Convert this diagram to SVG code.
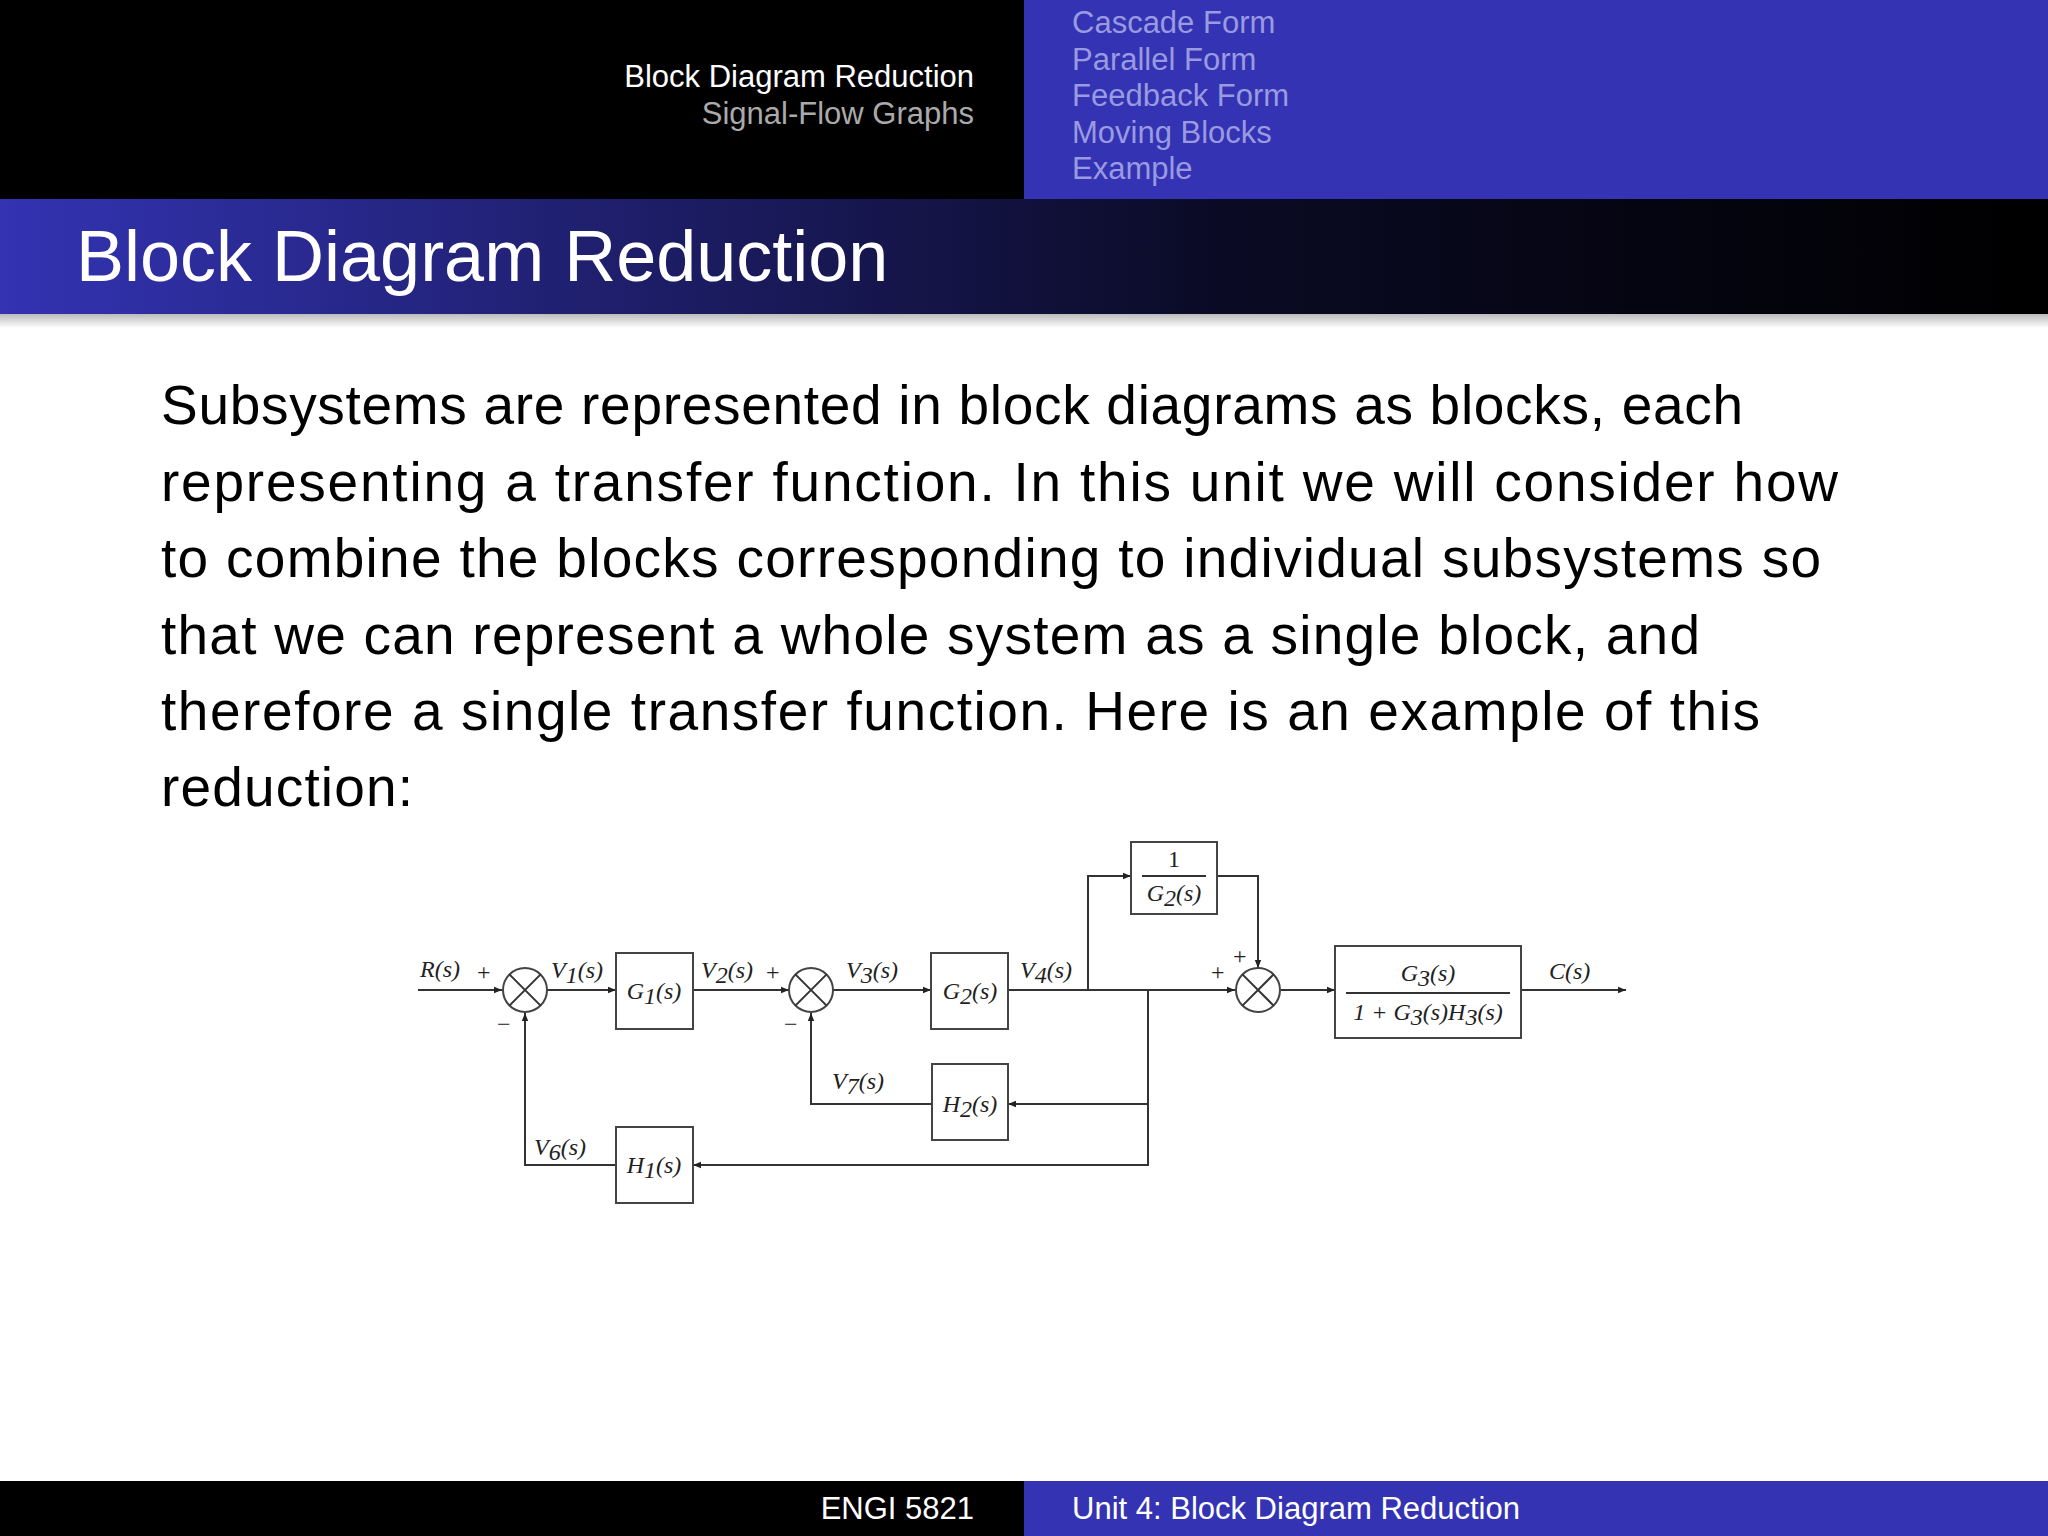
<svg xmlns="http://www.w3.org/2000/svg" width="2048" height="1536" viewBox="0 0 2048 1536">
<defs>
<linearGradient id="tg" x1="0" x2="1" y1="0" y2="0"><stop offset="0" stop-color="#3333b3"/><stop offset="0.6" stop-color="#0a0a24"/><stop offset="1" stop-color="#000"/></linearGradient>
<linearGradient id="sh" x1="0" x2="0" y1="0" y2="1"><stop offset="0" stop-color="#bbb"/><stop offset="1" stop-color="#fff"/></linearGradient>
<marker id="ar" viewBox="0 0 10 10" refX="10" refY="5" markerWidth="8" markerHeight="8" markerUnits="userSpaceOnUse" orient="auto"><path d="M0,1 L10,5 L0,9 z" fill="#222"/></marker>
<style>
.sans{font-family:"Liberation Sans","DejaVu Sans",sans-serif}
.nav{fill:#9a9ae0;font-size:31px}
.body{font-size:55px;fill:#000}
.m{font-family:"Liberation Serif",serif;font-style:italic;font-size:24px;fill:#222}
.r{font-family:"Liberation Serif",serif;font-size:24px;fill:#222}
.ln{stroke:#333;stroke-width:2;fill:none}
.bx{stroke:#444;stroke-width:2;fill:#fff}
</style>
</defs>
<rect width="2048" height="1536" fill="#fff"/>
<rect x="0" y="0" width="1024" height="199" fill="#000"/>
<rect x="1024" y="0" width="1024" height="199" fill="#3333b3"/>
<text class="sans" x="974" y="87" text-anchor="end" font-size="31" fill="#fff">Block Diagram Reduction</text>
<text class="sans" x="974" y="124" text-anchor="end" font-size="31" fill="#aaa">Signal-Flow Graphs</text>
<text class="sans nav" x="1072" y="33">Cascade Form</text>
<text class="sans nav" x="1072" y="70">Parallel Form</text>
<text class="sans nav" x="1072" y="106">Feedback Form</text>
<text class="sans nav" x="1072" y="143">Moving Blocks</text>
<text class="sans nav" x="1072" y="179">Example</text>
<rect x="0" y="199" width="2048" height="115" fill="url(#tg)"/>
<rect x="0" y="314" width="2048" height="14" fill="url(#sh)"/>
<text class="sans" x="76" y="281" font-size="72" fill="#fff">Block Diagram Reduction</text>
<g class="sans body">
<text x="161" y="424" textLength="1582">Subsystems are represented in block diagrams as blocks, each</text>
<text x="161" y="501" textLength="1677">representing a transfer function. In this unit we will consider how</text>
<text x="161" y="577" textLength="1660">to combine the blocks corresponding to individual subsystems so</text>
<text x="161" y="654" textLength="1539">that we can represent a whole system as a single block, and</text>
<text x="161" y="730" textLength="1599">therefore a single transfer function. Here is an example of this</text>
<text x="161" y="806" textLength="252">reduction:</text>
</g>
<g id="connectors">
<line class="ln" x1="418" y1="990" x2="502" y2="990" marker-end="url(#ar)"/>
<line class="ln" x1="547" y1="990" x2="616" y2="990" marker-end="url(#ar)"/>
<line class="ln" x1="693" y1="990" x2="789" y2="990" marker-end="url(#ar)"/>
<line class="ln" x1="833" y1="990" x2="931" y2="990" marker-end="url(#ar)"/>
<line class="ln" x1="1008" y1="990" x2="1235" y2="990" marker-end="url(#ar)"/>
<polyline class="ln" points="1088,990 1088,876 1131,876" marker-end="url(#ar)"/>
<polyline class="ln" points="1217,876 1258,876 1258,968" marker-end="url(#ar)"/>
<line class="ln" x1="1281" y1="990" x2="1335" y2="990" marker-end="url(#ar)"/>
<line class="ln" x1="1521" y1="990" x2="1626" y2="990" marker-end="url(#ar)"/>
<polyline class="ln" points="1148,990 1148,1165 693,1165" marker-end="url(#ar)"/>
<polyline class="ln" points="1148,1104 1008,1104" marker-end="url(#ar)"/>
<polyline class="ln" points="932,1104 811,1104 811,1013" marker-end="url(#ar)"/>
<polyline class="ln" points="616,1165 525,1165 525,1013" marker-end="url(#ar)"/>
</g>
<g id="sum1"><circle class="bx" cx="525" cy="990" r="22"/><path class="ln" d="M509.4,974.4 L540.6,1005.6 M540.6,974.4 L509.4,1005.6"/></g>
<g id="sum2"><circle class="bx" cx="811" cy="990" r="22"/><path class="ln" d="M795.4,974.4 L826.6,1005.6 M826.6,974.4 L795.4,1005.6"/></g>
<g id="sum3"><circle class="bx" cx="1258" cy="990" r="22"/><path class="ln" d="M1242.4,974.4 L1273.6,1005.6 M1273.6,974.4 L1242.4,1005.6"/></g>
<g id="g1"><rect class="bx" x="616" y="953" width="77" height="76"/><text class="m" x="654" y="999" text-anchor="middle">G<tspan class="r" font-size="16" dy="5">1</tspan><tspan dy="-5">(s)</tspan></text></g>
<g id="g2"><rect class="bx" x="931" y="953" width="77" height="76"/><text class="m" x="970" y="999" text-anchor="middle">G<tspan class="r" font-size="16" dy="5">2</tspan><tspan dy="-5">(s)</tspan></text></g>
<g id="inv"><rect class="bx" x="1131" y="842" width="86" height="72"/><text class="r" x="1174" y="867" text-anchor="middle">1</text><line class="ln" x1="1142" y1="876" x2="1206" y2="876"/><text class="m" x="1174" y="901" text-anchor="middle">G<tspan class="r" font-size="16" dy="5">2</tspan><tspan dy="-5">(s)</tspan></text></g>
<g id="h2"><rect class="bx" x="932" y="1064" width="76" height="76"/><text class="m" x="970" y="1112" text-anchor="middle">H<tspan class="r" font-size="16" dy="5">2</tspan><tspan dy="-5">(s)</tspan></text></g>
<g id="h1"><rect class="bx" x="616" y="1127" width="77" height="76"/><text class="m" x="654" y="1173" text-anchor="middle">H<tspan class="r" font-size="16" dy="5">1</tspan><tspan dy="-5">(s)</tspan></text></g>
<g id="g3"><rect class="bx" x="1335" y="946" width="186" height="92"/><text class="m" x="1428" y="981" text-anchor="middle">G<tspan class="r" font-size="16" dy="5">3</tspan><tspan dy="-5">(s)</tspan></text><line class="ln" x1="1346" y1="993" x2="1510" y2="993"/><text class="m" x="1428" y="1020" text-anchor="middle"><tspan class="r">1 + </tspan>G<tspan class="r" font-size="16" dy="5">3</tspan><tspan dy="-5">(s)H</tspan><tspan class="r" font-size="16" dy="5">3</tspan><tspan dy="-5">(s)</tspan></text></g>
<g id="labels">
<text class="m" x="420" y="977">R(s)</text>
<text class="r" x="477" y="980">+</text>
<text class="r" x="497" y="1032">−</text>
<text class="m" x="551" y="978">V<tspan class="r" font-size="16" dy="5">1</tspan><tspan dy="-5">(s)</tspan></text>
<text class="m" x="701" y="978">V<tspan class="r" font-size="16" dy="5">2</tspan><tspan dy="-5">(s)</tspan></text>
<text class="r" x="766" y="980">+</text>
<text class="r" x="784" y="1032">−</text>
<text class="m" x="846" y="978">V<tspan class="r" font-size="16" dy="5">3</tspan><tspan dy="-5">(s)</tspan></text>
<text class="m" x="1020" y="978">V<tspan class="r" font-size="16" dy="5">4</tspan><tspan dy="-5">(s)</tspan></text>
<text class="m" x="832" y="1089">V<tspan class="r" font-size="16" dy="5">7</tspan><tspan dy="-5">(s)</tspan></text>
<text class="m" x="534" y="1155">V<tspan class="r" font-size="16" dy="5">6</tspan><tspan dy="-5">(s)</tspan></text>
<text class="r" x="1211" y="980" font-size="18">+</text>
<text class="r" x="1233" y="964" font-size="18">+</text>
<text class="m" x="1549" y="979">C(s)</text>
</g>
<rect x="0" y="1481" width="1024" height="55" fill="#000"/>
<rect x="1024" y="1481" width="1024" height="55" fill="#3333b3"/>
<text class="sans" x="974" y="1519" text-anchor="end" font-size="31" fill="#fff">ENGI 5821</text>
<text class="sans" x="1072" y="1519" font-size="31" fill="#fff">Unit 4: Block Diagram Reduction</text>
</svg>
